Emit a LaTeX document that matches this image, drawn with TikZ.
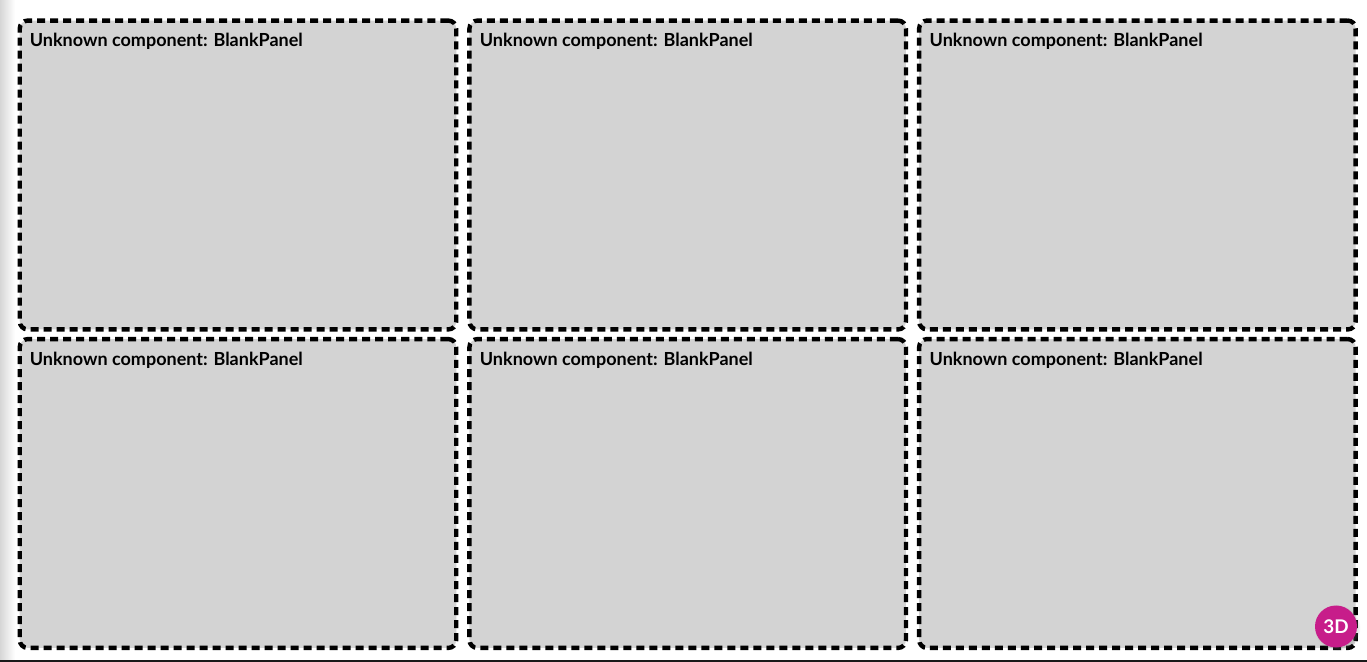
\documentclass[tikz,border=0pt]{standalone}
\usepackage{fontspec}
\setmainfont{Lato}
\usetikzlibrary{shadows}
\definecolor{panelgray}{RGB}{211,211,211}
\definecolor{badgepink}{RGB}{199,29,138}
\tikzset{
    panelbox/.style={draw=black,fill=panelgray,line width=0.11cm,rounded corners=0.2cm,
        dash pattern=on 0.2cm off 0.125cm,minimum width=10.91cm,minimum height=7.72cm,inner sep=0pt},
    paneltext/.style={anchor=west,inner sep=0pt,font=\fontsize{12.8pt}{14pt}\selectfont\bfseries,text=black},
    badge/.style={circle,fill=badgepink,minimum size=1.05cm,inner sep=0pt,text=white,
        font=\fontsize{13.4pt}{16pt}\selectfont\bfseries,
        circular drop shadow={shadow xshift=0.03cm,shadow yshift=-0.03cm,shadow scale=1.1,opacity=0.25}}
}
\begin{document}
\begin{tikzpicture}[x=0.025cm,y=-0.025cm]
    \useasboundingbox (0,0) rectangle (1367,662);
    \fill[white] (0,0) rectangle (1367,662);

    % Left edge and bottom edge
    \shade[left color=black!16,right color=white] (0,0) rectangle (15,660);
    \fill[black!90] (0,660) rectangle (1367,662);

    % Top row
    \node[panelbox] (panelA) at (238,175) {};
    \node[paneltext] (labelA) at (29.6,41) {Unknown component: BlankPanel};
    \node[panelbox] (panelB) at (687.7,175) {};
    \node[paneltext] (labelB) at (479.6,41) {Unknown component: BlankPanel};
    \node[panelbox] (panelC) at (1137.4,175) {};
    \node[paneltext] (labelC) at (929.4,41) {Unknown component: BlankPanel};

    % Bottom row
    \node[panelbox] (panelD) at (238,493.5) {};
    \node[paneltext] (labelD) at (29.6,360) {Unknown component: BlankPanel};
    \node[panelbox] (panelE) at (687.7,493.5) {};
    \node[paneltext] (labelE) at (479.6,360) {Unknown component: BlankPanel};
    \node[panelbox] (panelF) at (1137.4,493.5) {};
    \node[paneltext] (labelF) at (929.4,360) {Unknown component: BlankPanel};

    % Badge
    \node[badge] (badge3d) at (1336,626.5) {3D};
\end{tikzpicture}
\end{document}
